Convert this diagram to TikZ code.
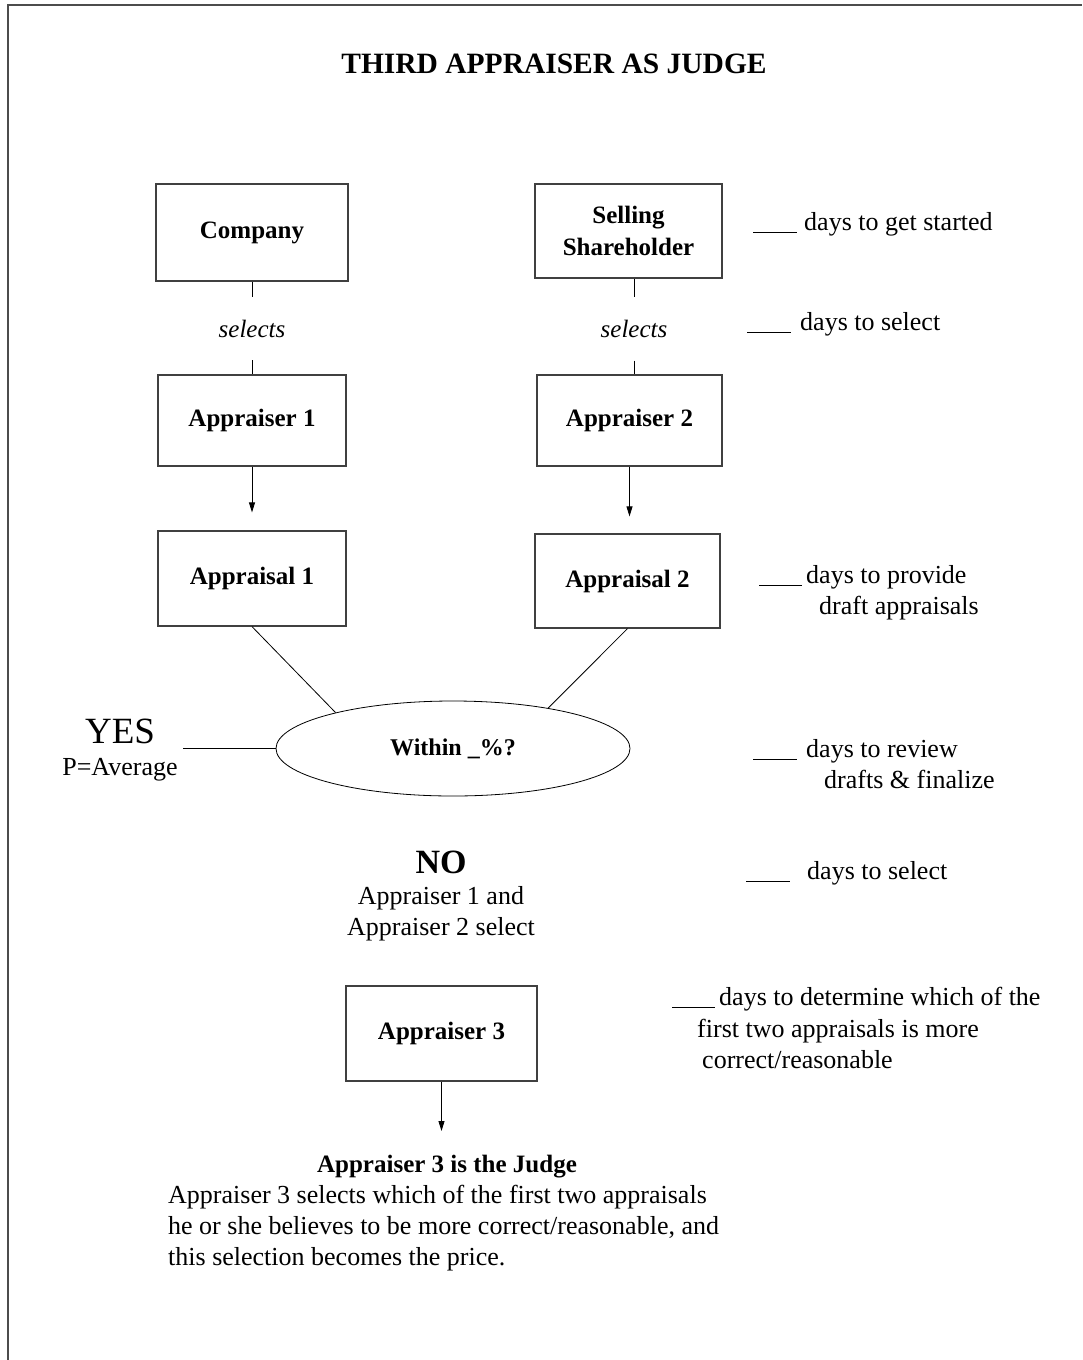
\documentclass[tikz,border=0pt]{standalone}
\usepackage{fontspec}
\setmainfont{Liberation Serif}
\usetikzlibrary{arrows.meta}
\usetikzlibrary{shapes.geometric}
\usetikzlibrary{positioning}

\newcommand{\blank}[1]{\rule[-3pt]{#1pt}{0.8pt}}

\begin{document}
\begin{tikzpicture}[>={Triangle[length=10pt,width=6pt]}, x=1pt, y=-1pt,
    box/.style={draw=black!75, line width=1.2pt, minimum width=188pt, minimum height=94pt,
        inner sep=2pt, align=center, font=\fontsize{25}{32}\selectfont\bfseries},
    txt/.style={inner sep=0pt, font=\fontsize{26}{31}\selectfont},
    note/.style={txt, anchor=base west},
    link/.style={line width=0.8pt}]

    \useasboundingbox (0,0) rectangle (1082,1360);
    \draw[line width=1.5pt, black!70] (8,1360) -- (8,5) -- (1082,5);

    \node[txt, anchor=base, font=\fontsize{29.5}{36}\selectfont\bfseries] (title) at (554,73) {THIRD APPRAISER AS JUDGE};

    % the two sides
    \node[box, minimum width=192pt, minimum height=97pt] (comp) at (252,232.5) {Company};
    \node[box, minimum width=187pt] (seller) at (628.5,231) {Selling\\Shareholder};

    \node[txt, font=\fontsize{25}{31}\selectfont\itshape, minimum height=63pt] (sel1) at (252,328.5) {selects};
    \node[txt, font=\fontsize{25}{31}\selectfont\itshape, minimum height=63pt] (sel2) at (634,329) {selects};

    \node[box, minimum height=91pt] (appr1) at (252,420.5) {Appraiser 1};
    \node[box, minimum width=185pt, minimum height=91pt] (appr2) at (629.5,420.5) {Appraiser 2};

    \node[box, minimum height=95pt] (apl1) at (252,578.5) {Appraisal 1};
    \node[box, minimum width=185pt] (apl2) at (627.5,581) {Appraisal 2};

    \draw[link] (comp) -- (sel1) -- (appr1);
    \draw[link] (seller.south -| sel2) -- (sel2) -- (appr2.north -| sel2);
    \draw[link, ->, shorten >=18pt] (appr1) -- (apl1);
    \draw[link, ->, shorten >=17pt] (appr2.south) -- (appr2.south |- apl2.north);

    % the test
    \node[ellipse, draw, line width=0.8pt, minimum width=354pt, minimum height=95pt, inner sep=0pt,
        font=\fontsize{24}{30}\selectfont\bfseries] (within) at (453,748.5) {Within \_\%?};
    \draw[link] (apl1.south) -- (within.163);
    \draw[link] (apl2.south) -- (within.23);

    \node[txt, anchor=base, font=\fontsize{37}{40}\selectfont] (yes) at (120,743) {YES};
    \node[txt, anchor=base] (avg) at (120,775) {P=Average};
    \coordinate (yesend) at (183,748.5);
    \draw[link] (yesend) -- (within.west);

    \node[txt, anchor=base, font=\fontsize{34}{40}\selectfont\bfseries] (no) at (441,873) {NO};
    \node[txt, anchor=base] (nosel1) at (441,904) {Appraiser 1 and};
    \node[txt, anchor=base] (nosel2) at (441,935) {Appraiser 2 select};

    \node[box, minimum width=191pt, minimum height=95pt] (appr3) at (441.5,1033.5) {Appraiser 3};
    \coordinate (judgetip) at (441.5,1131);
    \draw[link, ->] (appr3.south) -- (judgetip);

    \node[txt, anchor=base, font=\fontsize{25}{31}\selectfont\bfseries] (judge) at (447,1172) {Appraiser 3 is the Judge};
    \node[note] (par1) at (168,1203) {Appraiser 3 selects which of the first two appraisals};
    \node[note] (par2) at (168,1234) {he or she believes to be more correct/reasonable, and};
    \node[note] (par3) at (168,1265) {this selection becomes the price.};

    % time limits
    \node[note] (t1) at (753,230) {\blank{44}\hspace{7pt}days to get started};
    \node[note] (t2) at (747,330) {\blank{44}\hspace{9pt}days to select};
    \node[note] (t3a) at (759,583) {\blank{43}\hspace{4pt}days to provide};
    \node[note] (t3b) at (819,614) {draft appraisals};
    \node[note] (t4a) at (753,757) {\blank{44}\hspace{9pt}days to review};
    \node[note] (t4b) at (824,788) {drafts \& finalize};
    \node[note] (t5) at (746,879) {\blank{44}\hspace{17pt}days to select};
    \node[note] (t6a) at (672,1005) {\blank{43}\hspace{4pt}days to determine which of the};
    \node[note] (t6b) at (697,1037) {first two appraisals is more};
    \node[note] (t6c) at (702,1068) {correct/reasonable};

\end{tikzpicture}
\end{document}
